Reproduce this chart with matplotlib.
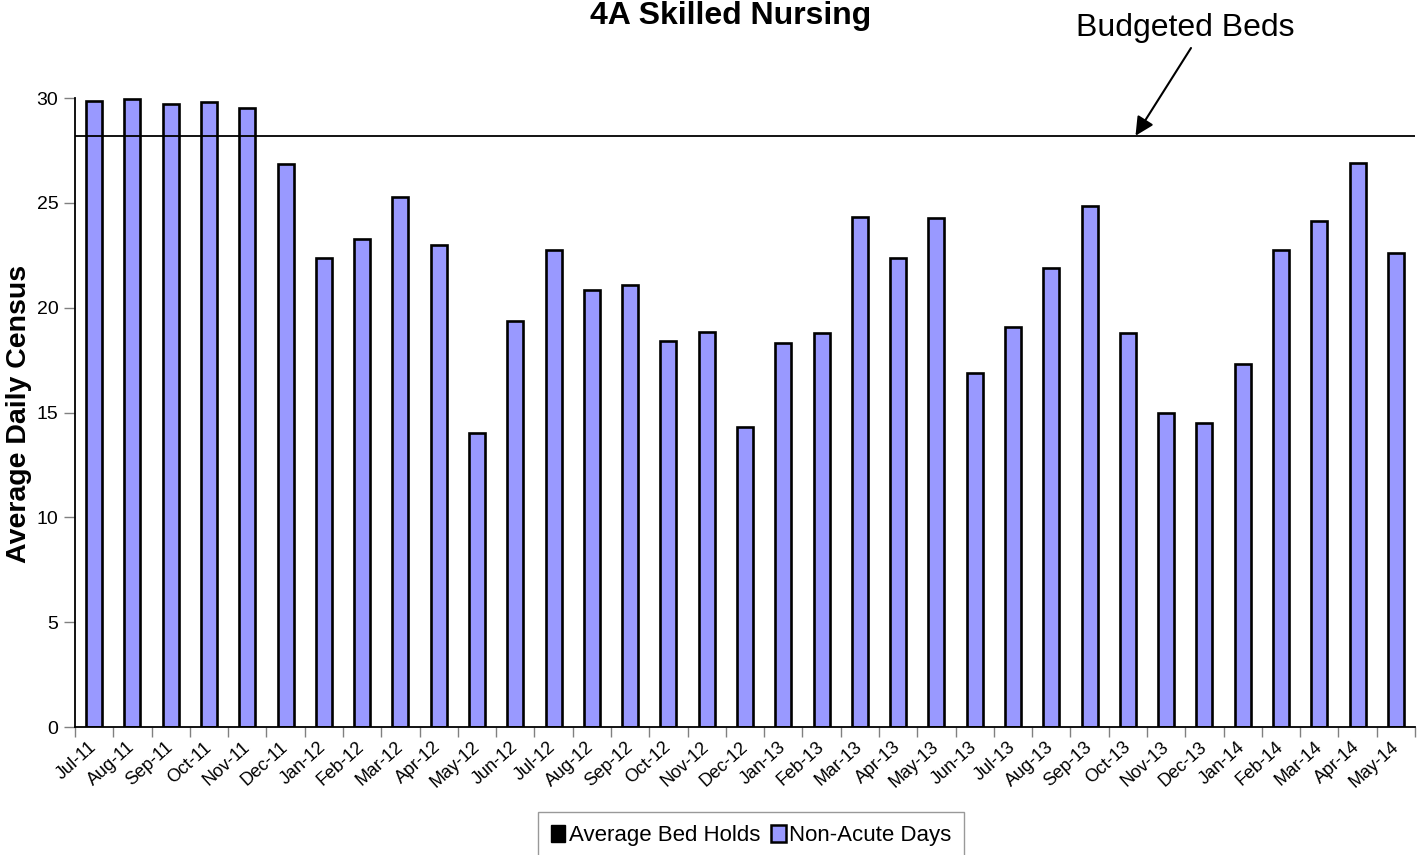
import numpy as np
import matplotlib.pyplot as plt
from matplotlib.patches import Patch

plt.rcParams['font.family'] = ['Liberation Sans', 'DejaVu Sans']

# monthly categories, Jul-11 .. May-14
months = ['Jul-11', 'Aug-11', 'Sep-11', 'Oct-11', 'Nov-11', 'Dec-11',
          'Jan-12', 'Feb-12', 'Mar-12', 'Apr-12', 'May-12', 'Jun-12',
          'Jul-12', 'Aug-12', 'Sep-12', 'Oct-12', 'Nov-12', 'Dec-12',
          'Jan-13', 'Feb-13', 'Mar-13', 'Apr-13', 'May-13', 'Jun-13',
          'Jul-13', 'Aug-13', 'Sep-13', 'Oct-13', 'Nov-13', 'Dec-13',
          'Jan-14', 'Feb-14', 'Mar-14', 'Apr-14', 'May-14']

# average bed holds (not visible in the chart -> zero)
bed_holds = [0.0] * len(months)

# non-acute days (average daily census)
non_acute = [29.85, 29.93, 29.71, 29.82, 29.50, 26.83,
             22.37, 23.27, 25.30, 23.00, 14.00, 19.38,
             22.73, 20.83, 21.07, 18.43, 18.84, 14.29,
             18.33, 18.78, 24.33, 22.39, 24.27, 16.88,
             19.06, 21.88, 24.84, 18.78, 15.00, 14.52,
             17.30, 22.74, 24.11, 26.90, 22.63]

budgeted_beds = 28.2

W, H = 1426, 855
fig = plt.figure(figsize=(W / 100, H / 100), dpi=100)
ax = fig.add_axes([75 / W, 1 - 727 / H, (1415 - 75) / W, (727 - 98) / H])

x = np.arange(len(months))
ax.bar(x, bed_holds, width=0.42, color='black', edgecolor='black', linewidth=1.9)
ax.bar(x, non_acute, width=0.42, bottom=bed_holds, color='#9999FF',
       edgecolor='black', linewidth=1.9)

# budgeted beds reference line
ax.axhline(budgeted_beds, color='black', linewidth=1.3)

ax.set_xlim(-0.5, len(months) - 0.5)
ax.set_ylim(0, 30)
ax.set_yticks([0, 5, 10, 15, 20, 25, 30])
ax.tick_params(axis='y', labelsize=14, length=8, width=1, color='#808080', pad=4)

ax.set_xticks(x)
ax.set_xticklabels(months, rotation=42, ha='right', va='center',
                   rotation_mode='anchor', fontsize=13)
ax.tick_params(axis='x', which='major', length=0, pad=13)
ax.set_xticks(np.arange(-0.5, len(months)), minor=True)
ax.tick_params(axis='x', which='minor', length=7, width=1, color='#808080')

for s in ['top', 'right']:
    ax.spines[s].set_visible(False)
ax.spines['left'].set_linewidth(1.3)
ax.spines['bottom'].set_linewidth(1.3)

fig.text(731 / W, 1 - 16 / H, '4A Skilled Nursing', ha='center', va='center',
         fontsize=23, fontweight='bold')
fig.text(19 / W, 1 - 414 / H, 'Average Daily Census', rotation=90,
         ha='center', va='center', fontsize=20.5, fontweight='bold')

# arrow label for budgeted beds
fig.text(1185 / W, 1 - 28 / H, 'Budgeted Beds', ha='center', va='center', fontsize=23)
ax.annotate('', xy=(27.2, budgeted_beds), xycoords='data',
            xytext=(1191 / W, 1 - 48 / H), textcoords='figure fraction',
            arrowprops=dict(arrowstyle='-|>', color='black', lw=1.5,
                            mutation_scale=28, shrinkA=0, shrinkB=0))

handles = [Patch(facecolor='black', edgecolor='black', label='Average Bed Holds'),
           Patch(facecolor='#9999FF', edgecolor='black', linewidth=1.8, label='Non-Acute Days')]
leg = fig.legend(handles=handles, loc='upper center', bbox_to_anchor=(751 / W, 1 - 812 / H),
                 ncol=2, fontsize=16, frameon=True, fancybox=False,
                 handlelength=0.65, handleheight=0.75, handletextpad=0.15,
                 columnspacing=0.5, borderpad=0.6, borderaxespad=0)
leg.get_frame().set_edgecolor('#808080')
leg.get_frame().set_linewidth(1)

fig.savefig('out.png', dpi=100)
